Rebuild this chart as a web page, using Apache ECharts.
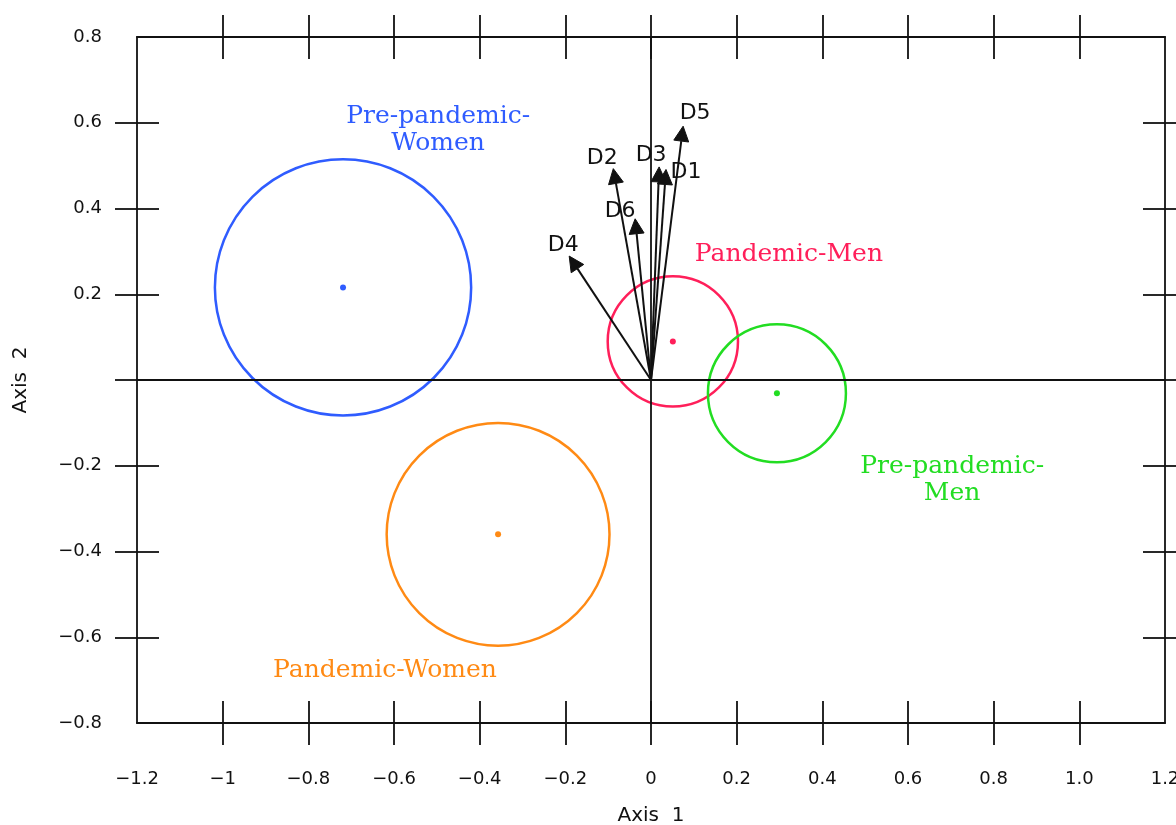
<!DOCTYPE html>
<html>
<head>
<meta charset="utf-8">
<script src="https://cdn.jsdelivr.net/npm/echarts@6/dist/echarts.min.js"></script>
<style>html,body{margin:0;padding:0;background:#fff;}#chart{width:1176px;height:825px;}</style>
</head>
<body>
<div id="chart"></div>
<script>
// ---- data ----
const groupNames = ['Pre-pandemic-\nWomen', 'Pandemic-Women', 'Pandemic-Men', 'Pre-pandemic-\nMen'];
const groupX = [-0.719, -0.357, 0.051, 0.294];
const groupY = [0.216, -0.360, 0.090, -0.031];
const groupRadius = [0.299, 0.260, 0.152, 0.161];
const groupLabelX = [-0.497, -0.621, 0.322, 0.703];
const groupLabelY = [0.584, -0.677, 0.293, -0.233];

const vecNames = ['D1', 'D2', 'D3', 'D4', 'D5', 'D6'];
const vecX = [0.035, -0.088, 0.019, -0.191, 0.075, -0.037];
const vecY = [0.491, 0.493, 0.497, 0.289, 0.592, 0.376];

const xLabelValues = [-1.2, -1, -0.8, -0.6, -0.4, -0.2, 0, 0.2, 0.4, 0.6, 0.8, 1.0, 1.2];
const xLabelText = ['\u22121.2', '\u22121', '\u22120.8', '\u22120.6', '\u22120.4', '\u22120.2', '0', '0.2', '0.4', '0.6', '0.8', '1.0', '1.2'];
const xTickValues = [-1, -0.8, -0.6, -0.4, -0.2, 0, 0.2, 0.4, 0.6, 0.8, 1.0];
const yLabelValues = [-0.8, -0.6, -0.4, -0.2, 0.2, 0.4, 0.6, 0.8];
const yLabelText = ['\u22120.8', '\u22120.6', '\u22120.4', '\u22120.2', '0.2', '0.4', '0.6', '0.8'];
const yTickValues = [-0.6, -0.4, -0.2, 0, 0.2, 0.4, 0.6];

// ---- styles ----
const groupColors = ['#2f5cff', '#ff8a14', '#ff1f5a', '#22dd22'];
const vecLabelOffset = [[20, 3], [-11, -10], [-8, -12], [-6, -11], [12, -13], [-15, -8]];

function fmt(values, texts) {
  return function (v) {
    for (let i = 0; i < values.length; i++) if (Math.abs(values[i] - v) < 1e-6) return texts[i];
    return '';
  };
}

const tickLen = 22;
const lineStyle = { color: '#111', width: 1.8 };
const labelFont = { fontFamily: 'DejaVu Sans', fontSize: 18, color: '#111' };

function xAx(position, inside, main) {
  return {
    type: 'value', gridIndex: 0, position: position, min: -1.2, max: 1.2, interval: 0.2,
    axisLine: { show: !inside, onZero: false, lineStyle: lineStyle },
    axisTick: { show: true, inside: inside, length: tickLen, customValues: xTickValues, lineStyle: lineStyle },
    axisLabel: main ? Object.assign({ show: true, margin: 47, customValues: xLabelValues, formatter: fmt(xLabelValues, xLabelText) }, labelFont) : { show: false },
    splitLine: { show: false },
    name: main ? 'Axis  1' : '', nameLocation: 'middle', nameGap: 83,
    nameTextStyle: { fontFamily: 'DejaVu Sans', fontSize: 20, color: '#111' }
  };
}
function yAx(position, inside, main) {
  return {
    type: 'value', gridIndex: 0, position: position, min: -0.8, max: 0.8, interval: 0.2,
    axisLine: { show: !inside, onZero: false, lineStyle: lineStyle },
    axisTick: { show: true, inside: inside, length: tickLen, customValues: yTickValues, lineStyle: lineStyle },
    axisLabel: main ? Object.assign({ show: true, margin: 35, customValues: yLabelValues, formatter: fmt(yLabelValues, yLabelText) }, labelFont) : { show: false },
    splitLine: { show: false },
    name: main ? 'Axis  2' : '', nameLocation: 'middle', nameGap: 106, nameRotate: 90,
    nameTextStyle: { fontFamily: 'DejaVu Sans', fontSize: 20, color: '#111' }
  };
}

const chart = echarts.init(document.getElementById('chart'), null, { renderer: 'canvas' });

const circleData = groupX.map((x, i) => [x, groupY[i], groupRadius[i], i]);
const vecData = vecX.map((x, i) => [x, vecY[i], i]);
const labelData = groupLabelX.map((x, i) => [x, groupLabelY[i], i]);

chart.setOption({
  animation: false,
  backgroundColor: '#ffffff',
  grid: { left: 137, right: 11, top: 37, bottom: 102, containLabel: false, outerBoundsMode: 'none' },
  xAxis: [xAx('bottom', false, true), xAx('bottom', true, false), xAx('top', false, false), xAx('top', true, false)],
  yAxis: [yAx('left', false, true), yAx('left', true, false), yAx('right', false, false), yAx('right', true, false)],
  series: [
    {
      type: 'custom', name: 'groups', xAxisIndex: 0, yAxisIndex: 0, silent: true,
      data: circleData,
      markLine: {
        silent: true, symbol: ['none', 'none'], animation: false,
        label: { show: false },
        lineStyle: { color: '#111', width: 1.8, type: 'solid' },
        data: [{ xAxis: 0 }, { yAxis: 0 }]
      },
      renderItem: function (params, api) {
        const c = api.coord([api.value(0), api.value(1)]);
        const s = api.size([api.value(2), api.value(2)]);
        const col = groupColors[api.value(3)];
        return {
          type: 'group',
          children: [
            { type: 'circle', shape: { cx: c[0], cy: c[1], r: (s[0] + s[1]) / 2 }, style: { fill: 'none', stroke: col, lineWidth: 2.5 } },
            { type: 'circle', shape: { cx: c[0], cy: c[1], r: 3 }, style: { fill: col, stroke: 'none' } }
          ]
        };
      }
    },
    {
      type: 'custom', name: 'vectors', xAxisIndex: 0, yAxisIndex: 0, silent: true,
      data: vecData,
      renderItem: function (params, api) {
        const o = api.coord([0, 0]);
        const t = api.coord([api.value(0), api.value(1)]);
        const idx = api.value(2);
        const dx = t[0] - o[0], dy = t[1] - o[1];
        const len = Math.hypot(dx, dy);
        const ux = dx / len, uy = dy / len;
        const hl = 15, hw = 7.5;
        const b = [t[0] - ux * hl, t[1] - uy * hl];
        const px = -uy, py = ux;
        const off = vecLabelOffset[idx];
        return {
          type: 'group',
          children: [
            { type: 'line', shape: { x1: o[0], y1: o[1], x2: b[0], y2: b[1] }, style: { stroke: '#111', lineWidth: 2 } },
            { type: 'polygon', shape: { points: [t, [b[0] + px * hw, b[1] + py * hw], [b[0] - px * hw, b[1] - py * hw]] }, style: { fill: '#111', stroke: '#111', lineWidth: 1 } },
            { type: 'text', x: t[0] + off[0], y: t[1] + off[1], style: { text: vecNames[idx], fill: '#111', font: '22px "DejaVu Sans"', align: 'center', verticalAlign: 'middle' } }
          ]
        };
      }
    },
    {
      type: 'custom', name: 'groupLabels', xAxisIndex: 0, yAxisIndex: 0, silent: true,
      data: labelData,
      renderItem: function (params, api) {
        const p = api.coord([api.value(0), api.value(1)]);
        const idx = api.value(2);
        return {
          type: 'text', x: p[0], y: p[1],
          style: { text: groupNames[idx], fill: groupColors[idx], font: '25px "DejaVu Serif"', align: 'center', verticalAlign: 'middle', lineHeight: 27 }
        };
      }
    }
  ]
});
</script>
</body>
</html>
